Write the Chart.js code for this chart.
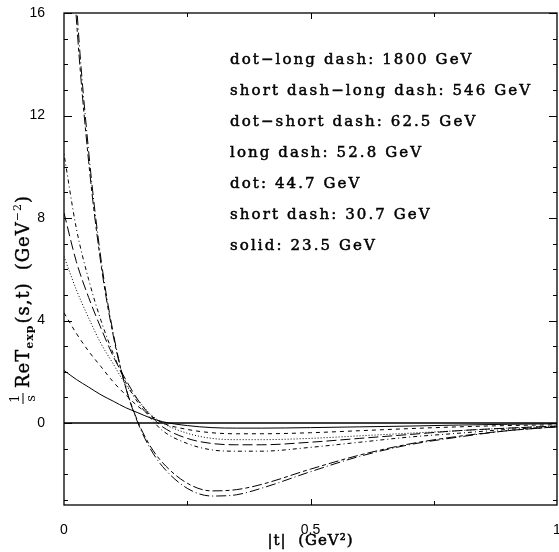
<!DOCTYPE html>
<html>
<head>
<meta charset="utf-8">
<script src="https://cdn.jsdelivr.net/npm/chart.js@4.4.1/dist/chart.umd.min.js"></script>
<style>
  html, body { margin: 0; padding: 0; background: #fff; }
  #wrap { width: 559px; height: 552px; }
</style>
</head>
<body>
<div id="wrap"><canvas id="chart" width="559" height="552"></canvas></div>
<script>
// |t| values (GeV^2)
const tValues = [0, 0.025, 0.05, 0.075, 0.1, 0.125, 0.15, 0.175, 0.2, 0.25, 0.3, 0.35, 0.4, 0.5, 0.6, 0.7, 0.8, 0.9, 1.0];

// 1/s Re T_exp(s,t) for each energy
const dotLongDash1800 = [26, 16.5, 10.6, 6.4, 3.5, 1.4, 0.0, -1.0, -1.7, -2.55, -2.85, -2.8, -2.55, -1.9, -1.3, -0.85, -0.55, -0.3, -0.15];
const shortLongDash546 = [24, 15.8, 10.2, 6.2, 3.4, 1.4, 0.05, -0.9, -1.55, -2.35, -2.65, -2.6, -2.4, -1.8, -1.25, -0.82, -0.52, -0.3, -0.15];
const dotShortDash625 = [10.5, 7.6, 5.6, 4.0, 2.7, 1.6, 0.8, 0.2, -0.3, -0.8, -1.05, -1.1, -1.1, -0.95, -0.75, -0.55, -0.4, -0.25, -0.15];
const longDash528 = [8.2, 6.3, 4.9, 3.7, 2.6, 1.7, 0.9, 0.3, -0.15, -0.6, -0.8, -0.85, -0.85, -0.75, -0.6, -0.45, -0.3, -0.2, -0.12];
const dot447 = [6.5, 5.2, 4.1, 3.1, 2.3, 1.5, 0.9, 0.35, 0.0, -0.4, -0.6, -0.65, -0.65, -0.6, -0.5, -0.4, -0.3, -0.2, -0.12];
const shortDash307 = [4.3, 3.5, 2.8, 2.2, 1.6, 1.1, 0.65, 0.3, 0.0, -0.25, -0.38, -0.42, -0.42, -0.38, -0.3, -0.22, -0.15, -0.1, -0.07];
const solid235 = [2.05, 1.7, 1.4, 1.1, 0.85, 0.6, 0.4, 0.2, 0.05, -0.1, -0.18, -0.2, -0.2, -0.18, -0.15, -0.12, -0.08, -0.05, -0.03];

// legenda escrita dentro do gráfico
const legendLines = [
    'dot\u2212long dash: 1800 GeV',
    'short dash\u2212long dash: 546 GeV',
    'dot\u2212short dash: 62.5 GeV',
    'long dash: 52.8 GeV',
    'dot: 44.7 GeV',
    'short dash: 30.7 GeV',
    'solid: 23.5 GeV'
];

const xTickLabels = { 0: '0', 0.5: '0.5', 1: '1' };
const yTickLabels = { 0: '0', 4: '4', 8: '8', 12: '12', 16: '16' };

function toPoints(values) {
    return tValues.map((t, i) => ({ x: t, y: values[i] }));
}

function makeSet(values, dash) {
    return {
        data: toPoints(values),
        borderColor: '#000',
        borderWidth: 1,
        borderDash: dash,
        pointRadius: 0,
        fill: false,
        cubicInterpolationMode: 'monotone'
    };
}

// texto um pouco mais grosso, como no original
function heavyText(ctx, text, x, y) {
    ctx.fillText(text, x, y);
    ctx.strokeText(text, x, y);
}

// moldura, ticks internos, linha do zero e textos
const framePlugin = {
    id: 'frame',
    beforeDatasetsDraw(chart) {
        const { ctx, chartArea: a, scales: { y } } = chart;
        ctx.save();
        ctx.strokeStyle = '#000';
        ctx.lineWidth = 1.6;
        const y0 = y.getPixelForValue(0);
        ctx.beginPath();
        ctx.moveTo(a.left, y0);
        ctx.lineTo(a.right, y0);
        ctx.stroke();
        ctx.restore();
    },
    afterDraw(chart) {
        const { ctx, chartArea: a, scales: { x, y } } = chart;
        ctx.save();
        ctx.strokeStyle = '#000';
        ctx.lineWidth = 1.3;
        ctx.strokeRect(a.left, a.top, a.right - a.left, a.bottom - a.top);

        ctx.lineWidth = 1;
        for (let v = -3; v <= 16; v++) {
            const py = Math.round(y.getPixelForValue(v)) + 0.5;
            const len = v % 4 === 0 ? 8 : 4;
            ctx.beginPath();
            ctx.moveTo(a.left, py); ctx.lineTo(a.left + len, py);
            ctx.moveTo(a.right, py); ctx.lineTo(a.right - len, py);
            ctx.stroke();
        }
        [0.25, 0.5, 0.75].forEach(v => {
            const px = Math.round(x.getPixelForValue(v)) + 0.5;
            const len = v === 0.5 ? 6 : 4;
            ctx.beginPath();
            ctx.moveTo(px, a.bottom); ctx.lineTo(px, a.bottom - len);
            ctx.moveTo(px, a.top); ctx.lineTo(px, a.top + len);
            ctx.stroke();
        });

        // legenda
        ctx.fillStyle = '#000';
        ctx.lineWidth = 0.5;
        ctx.font = '15px "DejaVu Serif"';
        ctx.textAlign = 'left';
        ctx.textBaseline = 'alphabetic';
        const longest = legendLines[1];
        const natural = ctx.measureText(longest).width;
        ctx.letterSpacing = ((302 - natural) / longest.length).toFixed(2) + 'px';
        legendLines.forEach((line, i) => {
            heavyText(ctx, line, 230, 64 + i * 31);
        });

        // título do eixo x
        ctx.font = '15px "DejaVu Serif"';
        ctx.textAlign = 'center';
        ctx.letterSpacing = '1px';
        heavyText(ctx, '|t|  (GeV\u00b2)', (a.left + a.right) / 2, 545);

        // título do eixo y (girado)
        ctx.translate(29, 404);
        ctx.rotate(-Math.PI / 2);
        let cx = 0;
        ctx.letterSpacing = '0px';
        ctx.font = '13px "DejaVu Serif"';
        ctx.textAlign = 'center';
        ctx.fillText('1', cx + 5.5, -10);
        ctx.fillText('s', cx + 5.5, 6);
        ctx.lineWidth = 1;
        ctx.beginPath();
        ctx.moveTo(cx, -6); ctx.lineTo(cx + 11, -6);
        ctx.stroke();
        cx += 16;
        ctx.textAlign = 'left';
        ctx.letterSpacing = '1px';
        ctx.lineWidth = 0.4;
        ctx.font = '18px "DejaVu Serif"';
        heavyText(ctx, 'ReT', cx, 0);
        cx += ctx.measureText('ReT').width;
        ctx.font = 'bold 11px "DejaVu Serif"';
        ctx.fillText('exp', cx, 4);
        cx += ctx.measureText('exp').width + 1;
        ctx.font = '18px "DejaVu Serif"';
        heavyText(ctx, '(s,t)', cx, 0);
        cx += ctx.measureText('(s,t)').width + 12;
        heavyText(ctx, '(GeV', cx, 0);
        cx += ctx.measureText('(GeV').width;
        ctx.font = '11px "DejaVu Serif"';
        ctx.fillText('\u22122', cx, -8);
        cx += ctx.measureText('\u22122').width;
        ctx.font = '18px "DejaVu Serif"';
        heavyText(ctx, ')', cx, 0);
        ctx.restore();
    }
};

new Chart(document.getElementById('chart'), {
    type: 'line',
    data: {
        datasets: [
            makeSet(dotLongDash1800, [1, 3, 10, 3]),
            makeSet(shortLongDash546, [4, 3, 10, 3]),
            makeSet(dotShortDash625, [1, 3, 4, 3]),
            makeSet(longDash528, [10, 4]),
            makeSet(dot447, [1, 2]),
            makeSet(shortDash307, [4, 4]),
            makeSet(solid235, [])
        ]
    },
    options: {
        responsive: false,
        animation: false,
        layout: { padding: { top: 13, right: 2, left: 0, bottom: 0 } },
        plugins: { legend: { display: false }, tooltip: { enabled: false } },
        scales: {
            x: {
                type: 'linear',
                min: 0,
                max: 1,
                grid: { display: false },
                border: { display: false },
                ticks: {
                    stepSize: 0.25,
                    autoSkip: false,
                    maxRotation: 0,
                    padding: 9,
                    color: '#000',
                    font: { family: 'Liberation Sans', size: 14 },
                    callback: v => xTickLabels[v] ?? ''
                },
                afterFit(scale) {
                    scale.height = 47;
                    scale.paddingLeft = 0;
                    scale.paddingRight = 0;
                }
            },
            y: {
                min: -3.2,
                max: 16,
                grid: { display: false },
                border: { display: false },
                ticks: {
                    stepSize: 1,
                    autoSkip: false,
                    padding: 11,
                    color: '#000',
                    font: { family: 'Liberation Sans', size: 14 },
                    callback: v => yTickLabels[v] ?? ''
                },
                afterFit(scale) {
                    scale.width = 64;
                    scale.paddingTop = 0;
                    scale.paddingBottom = 0;
                }
            }
        }
    },
    plugins: [framePlugin]
});
</script>
</body>
</html>
